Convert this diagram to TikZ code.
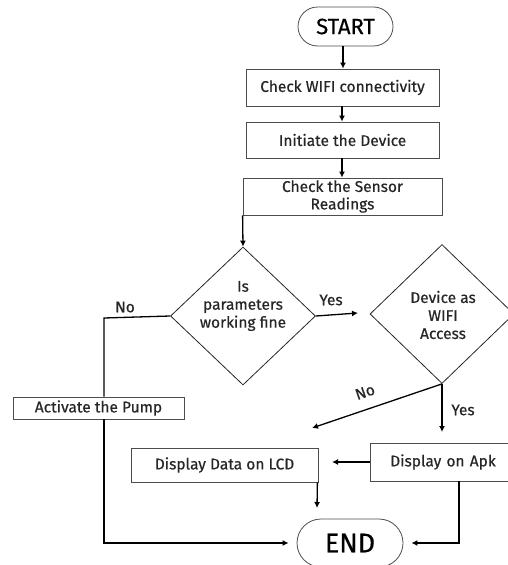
\documentclass[tikz,border=0pt]{standalone}
\usepackage{fontspec}
\setmainfont{Fira Sans}[FakeBold=0.5]
\usetikzlibrary{shapes.geometric,shapes.misc,arrows.meta,calc}
\begin{document}
\begin{tikzpicture}[x=1pt,y=-1pt,
  box/.style={draw=black!70,line width=0.8pt,rectangle,inner sep=0pt,font=\fontsize{15.5}{16}\selectfont,align=center,text=black!85},
  term/.style={draw=black!70,line width=0.8pt,rounded rectangle,inner sep=0pt},
  dia/.style={draw=black!85,line width=0.8pt,diamond,inner sep=0pt},
  lbl/.style={font=\fontsize{15.5}{18}\selectfont,align=center,inner sep=0pt,text=black!85},
  arr/.style={line width=1.3pt,-{Latex[length=6pt,width=6pt]}},
  ln/.style={line width=1.3pt}]
\useasboundingbox (0,0) rectangle (507,565);
\node[term,minimum width=95pt,minimum height=39pt,font=\fontsize{22}{23}\selectfont] (start) at (345.5,26.5) {START};
\node[box,minimum width=193pt,minimum height=37pt] (wifi) at (342.5,87.5) {Check WIFI connectivity};
\node[box,minimum width=193pt,minimum height=36pt] (init) at (342.5,140) {Initiate the Device};
\node[box,minimum width=199pt,minimum height=37pt,font=\fontsize{15.5}{17.5}\selectfont] (sensor) at (342.5,196.5) {Check the Sensor\\Readings};
\node[dia,minimum width=145pt,minimum height=138pt] (d1) at (243,316) {};
\node[lbl] (d1t) at (243,306) {Is\\parameters\\working fine};
\node[dia,minimum width=144pt,minimum height=139pt] (d2) at (442,314) {};
\node[lbl] (d2t) at (443,315) {Device as\\WIFI\\Access};
\node[box,minimum width=171pt,minimum height=22pt] (pump) at (98.5,408) {Activate the Pump};
\node[box,minimum width=187pt,minimum height=34pt] (lcd) at (224.5,465) {Display Data on LCD};
\node[box,minimum width=142pt,minimum height=38pt,text width=142pt] (apk) at (441,462) {\hspace*{4pt}Display on Apk};
\node[term,minimum width=106pt,minimum height=48pt,font=\fontsize{27}{28}\selectfont] (endn) at (350,543) {END};
% connectors
\draw[arr] (start.south -| 343,0) -- (wifi.north -| 343,0);
\draw[arr] (wifi.south -| 342,0) -- (init.north -| 342,0);
\draw[arr] (init.south -| 342,0) -- (sensor.north -| 342,0);
\draw[arr] (sensor.south west) -- (d1.north);
\coordinate (yesend) at (358,313);
\draw[arr] (d1.east) -- (yesend);
\node[lbl] (yeslbl) at (331,300) {Yes};
\coordinate (nocorner) at (104,318);
\draw[ln] (d1.west) -- (nocorner) -- (nocorner |- pump.north);
\node[lbl] (nolbl) at (125,307) {No};
\draw[arr,shorten >=8pt] (nocorner |- pump.south) |- (endn.west);
\coordinate (noend) at (312,428);
\draw[arr] (d2.south) -- (noend);
\node[lbl,rotate=19] (no2lbl) at (365,392) {No};
\coordinate (yes2end) at (442,432);
\draw[arr] (d2.south) -- (yes2end);
\node[lbl] (yes2lbl) at (463,410) {Yes};
\coordinate (apkleft) at (332,462);
\draw[arr] (apk.west) -- (apkleft);
\coordinate (lcdend) at (317,508);
\draw[arr] ($(lcd.south east)+(-1,0)$) -- (lcdend);
\draw[arr,shorten >=8pt] ($(apk.south)+(18,0)$) |- (endn.east);
\end{tikzpicture}
\end{document}
